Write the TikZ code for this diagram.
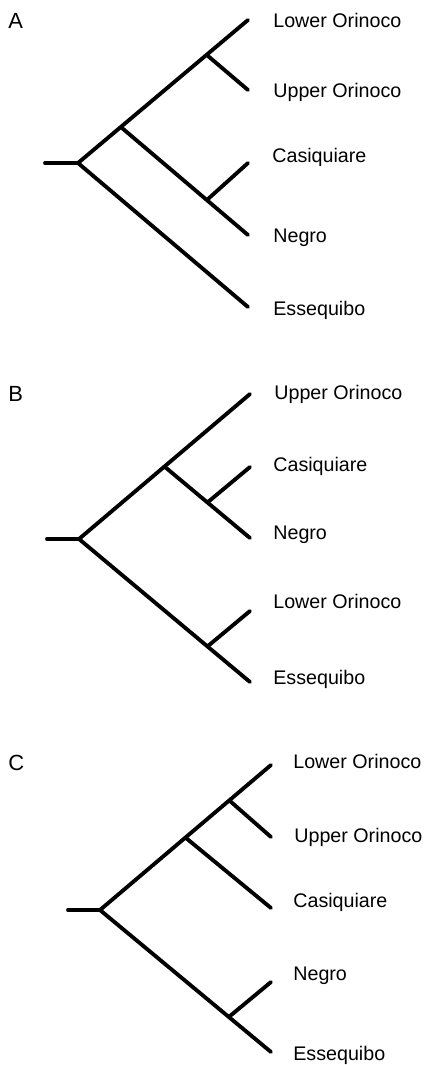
\documentclass[tikz,border=0pt]{standalone}
\usepackage{fontspec}
\setmainfont{Liberation Sans}
\usepackage{tkz-euclide}
\usetikzlibrary{calc}

\tikzset{
  branch/.style={line width=2.2pt},
  taxon/.style={anchor=base west,inner sep=0pt,font=\fontsize{11.2}{13}\selectfont},
  panel/.style={anchor=base west,inner sep=0pt,font=\fontsize{12.5}{15}\selectfont}
}

\begin{document}
\begin{tikzpicture}[x=0.02cm,y=-0.02cm]
                \useasboundingbox (0,0) rectangle (425,1065);
                % tree A
                \tkzDefPoint(45,163){As}
                \tkzDefPoint(78,163){Ar}
                \tkzDefPoint(122,128){Ax}
                \tkzDefPoint(208,56){Ay}
                \tkzDefPoint(208,199){Az}
                \tkzDefPoint(248,20){ALo}
                \tkzDefPoint(248,90){AUp}
                \tkzDefPoint(248,163){ACa}
                \tkzDefPoint(248,235){ANe}
                \tkzDefPoint(248,307){AEs}
                \tkzDrawSegments[branch](As,Ar Ar,ALo Ar,AEs Ax,ANe Ay,AUp Az,ACa)
                \tkzDefPoint(8,28){lA}
                \tkzDefPoint(273,27){lALo}
                \tkzDefPoint(273,97){lAUp}
                \tkzDefPoint(272,162){lACa}
                \tkzDefPoint(273,242){lANe}
                \tkzDefPoint(273,315){lAEs}
                \tkzLabelPoint[panel,name=tA](lA){A}
                \tkzLabelPoint[taxon,name=tALo](lALo){Lower Orinoco}
                \tkzLabelPoint[taxon,name=tAUp](lAUp){Upper Orinoco}
                \tkzLabelPoint[taxon,name=tACa](lACa){Casiquiare}
                \tkzLabelPoint[taxon,name=tANe](lANe){Negro}
                \tkzLabelPoint[taxon,name=tAEs](lAEs){Essequibo}
                % tree B
                \tkzDefPoint(47,539){Bs}
                \tkzDefPoint(79,539){Br}
                \tkzDefPoint(165,467){Bx}
                \tkzDefPoint(208,502){By}
                \tkzDefPoint(208,646){Bz}
                \tkzDefPoint(250,394){BUp}
                \tkzDefPoint(250,467){BCa}
                \tkzDefPoint(250,538){BNe}
                \tkzDefPoint(250,611){BLo}
                \tkzDefPoint(250,682){BEs}
                \tkzDrawSegments[branch](Bs,Br Br,BUp Br,BEs Bx,BNe By,BCa Bz,BLo)
                \tkzDefPoint(8,401){lB}
                \tkzDefPoint(274,399){lBUp}
                \tkzDefPoint(273,471){lBCa}
                \tkzDefPoint(273,539){lBNe}
                \tkzDefPoint(273,608){lBLo}
                \tkzDefPoint(273,684){lBEs}
                \tkzLabelPoint[panel,name=tB](lB){B}
                \tkzLabelPoint[taxon,name=tBUp](lBUp){Upper Orinoco}
                \tkzLabelPoint[taxon,name=tBCa](lBCa){Casiquiare}
                \tkzLabelPoint[taxon,name=tBNe](lBNe){Negro}
                \tkzLabelPoint[taxon,name=tBLo](lBLo){Lower Orinoco}
                \tkzLabelPoint[taxon,name=tBEs](lBEs){Essequibo}
                % tree C
                \tkzDefPoint(68,910){Cs}
                \tkzDefPoint(100,910){Cr}
                \tkzDefPoint(186,838){Cx}
                \tkzDefPoint(230,801){Cy}
                \tkzDefPoint(230,1016){Cz}
                \tkzDefPoint(271,765){CLo}
                \tkzDefPoint(271,837){CUp}
                \tkzDefPoint(271,908){CCa}
                \tkzDefPoint(271,982){CNe}
                \tkzDefPoint(271,1052){CEs}
                \tkzDrawSegments[branch](Cs,Cr Cr,CLo Cr,CEs Cx,CCa Cy,CUp Cz,CNe)
                \tkzDefPoint(8,770){lC}
                \tkzDefPoint(293,768){lCLo}
                \tkzDefPoint(294,842){lCUp}
                \tkzDefPoint(293,907){lCCa}
                \tkzDefPoint(293,980){lCNe}
                \tkzDefPoint(293,1060){lCEs}
                \tkzLabelPoint[panel,name=tC](lC){C}
                \tkzLabelPoint[taxon,name=tCLo](lCLo){Lower Orinoco}
                \tkzLabelPoint[taxon,name=tCUp](lCUp){Upper Orinoco}
                \tkzLabelPoint[taxon,name=tCCa](lCCa){Casiquiare}
                \tkzLabelPoint[taxon,name=tCNe](lCNe){Negro}
                \tkzLabelPoint[taxon,name=tCEs](lCEs){Essequibo}
            \end{tikzpicture}
\end{document}
